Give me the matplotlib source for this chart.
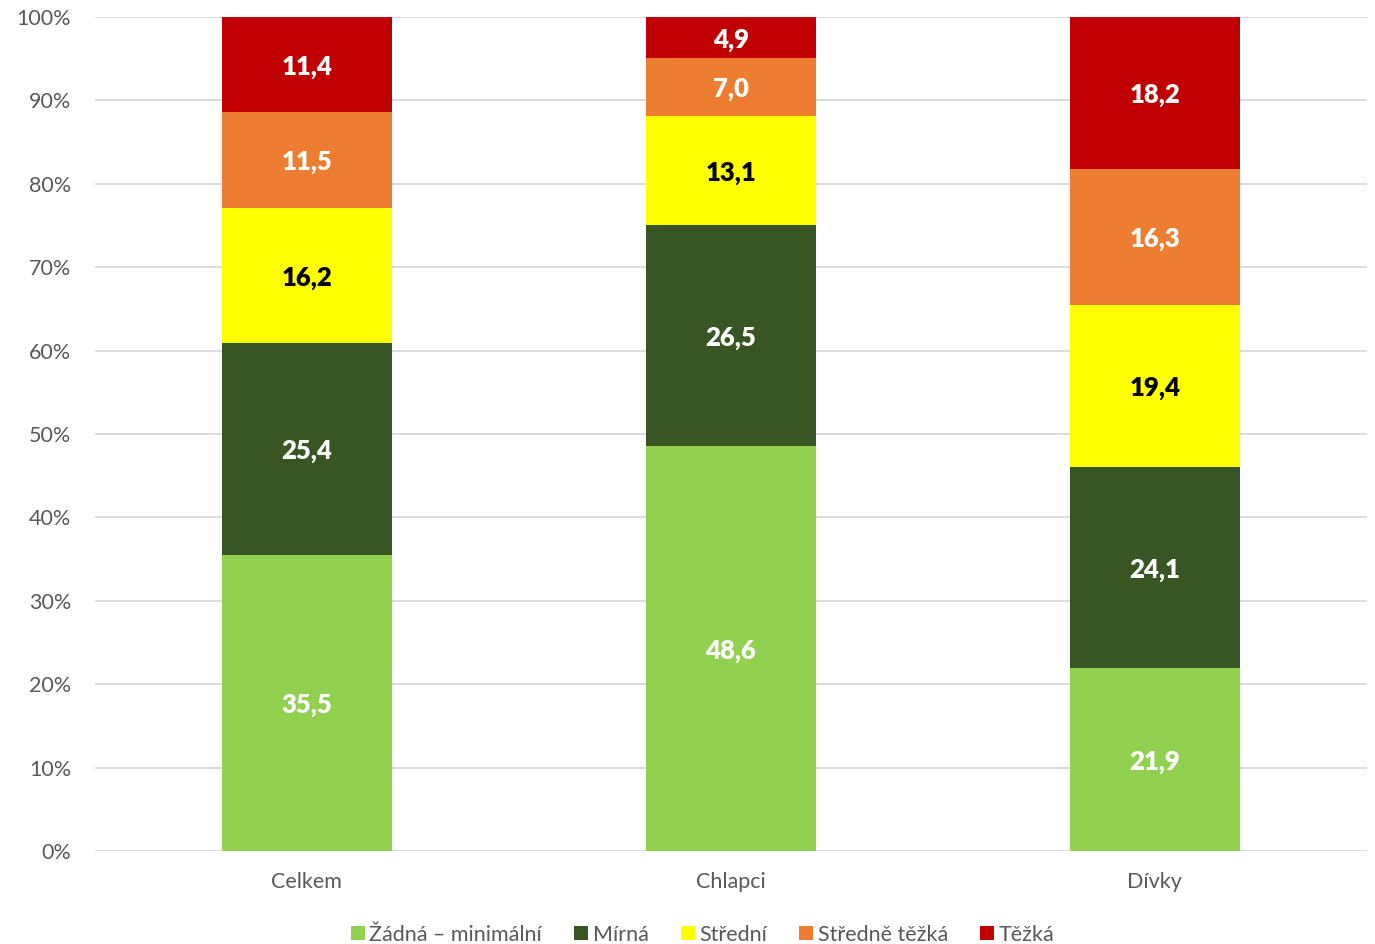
import matplotlib
matplotlib.use("Agg")
import matplotlib.pyplot as plt
import numpy as np
from matplotlib.ticker import PercentFormatter

plt.rcParams['font.family'] = ['Lato', 'DejaVu Sans']

categories = ["Celkem", "Chlapci", "Dívky"]
series = ["Žádná – minimální", "Mírná", "Střední", "Středně těžká", "Těžká"]
values = [
    [35.5, 48.6, 21.9],
    [25.4, 26.5, 24.1],
    [16.2, 13.1, 19.4],
    [11.5, 7.0, 16.3],
    [11.4, 4.9, 18.2],
]
colors = ["#92d050", "#375623", "#ffff00", "#ed7d31", "#c00000"]
label_colors = ["white", "white", "black", "white", "white"]


def main():
    data = np.array(values)
    totals = data.sum(axis=0)
    shares = data / totals * 100

    fig = plt.figure(figsize=(13.75, 9.44), dpi=100)
    ax = fig.add_axes([0.069, 0.0985, 0.925, 0.8835])

    x = np.arange(len(categories))
    bottom = np.zeros(len(categories))
    for i, name in enumerate(series):
        bars = ax.bar(x, shares[i], 0.4, bottom=bottom, color=colors[i],
                      label=name, zorder=3)
        for j, b in enumerate(bars):
            ax.text(b.get_x() + b.get_width() / 2, bottom[j] + shares[i][j] / 2,
                    ("%.1f" % data[i][j]).replace(".", ","),
                    ha="center", va="center_baseline", fontsize=18.5,
                    fontweight="heavy", color=label_colors[i], zorder=4)
        bottom += shares[i]

    ax.set_xlim(-0.5, 2.5)
    ax.set_ylim(0, 100)
    ax.set_yticks(np.arange(0, 101, 10))
    ax.yaxis.set_major_formatter(PercentFormatter(decimals=0))
    ax.set_xticks(x)
    ax.set_xticklabels(categories)
    ax.grid(axis="y", color="#d9d9d9", linewidth=1.3, zorder=0)
    for s in ax.spines.values():
        s.set_visible(False)
    ax.tick_params(axis="both", length=0, labelsize=15.5, colors="#595959")
    ax.tick_params(axis="y", pad=17)
    ax.tick_params(axis="x", pad=15)

    fig.legend(*ax.get_legend_handles_labels(), loc="center",
               bbox_to_anchor=(0.511, 0.010), ncol=5,
               frameon=False, fontsize=15.5, handlelength=0.65, handleheight=0.65,
               handletextpad=0.2, columnspacing=1.5, labelcolor="#595959",
               borderpad=0, borderaxespad=0)

    fig.savefig("out.png", dpi=100)


if __name__ == "__main__":
    main()
